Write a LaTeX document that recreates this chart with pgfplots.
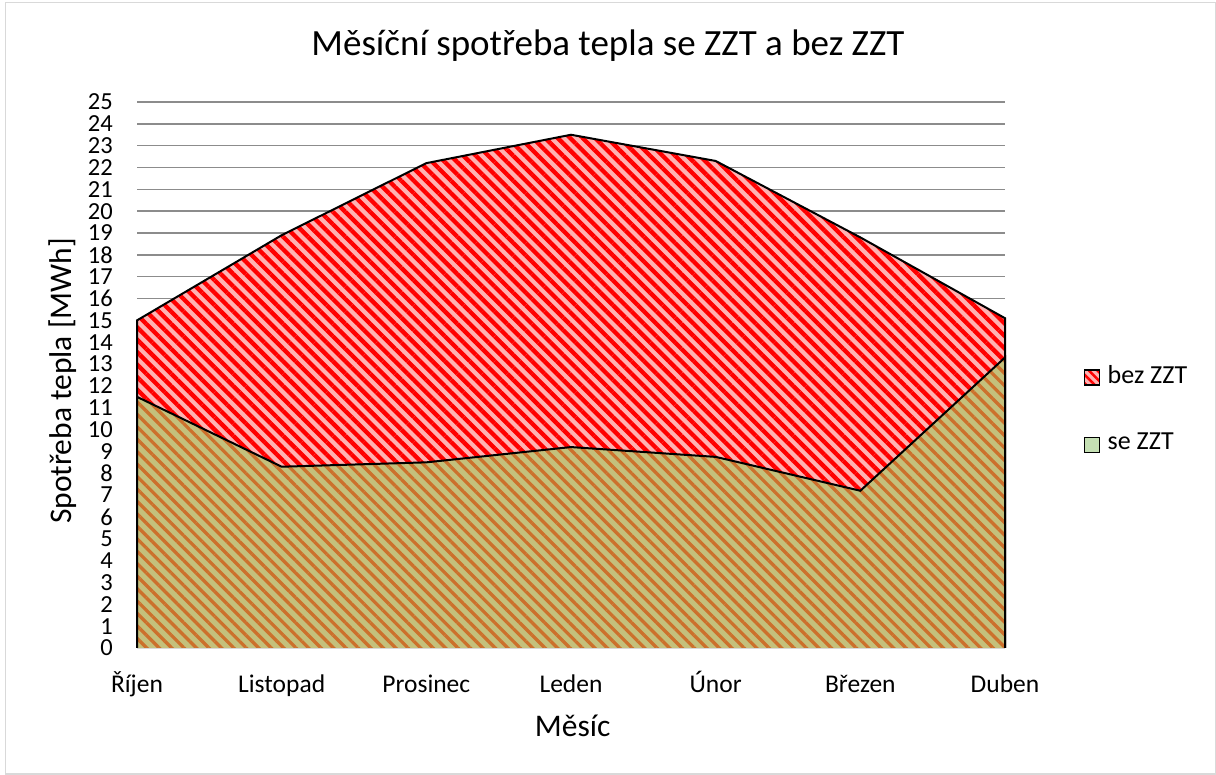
\documentclass[border=0pt]{standalone}
\usepackage{fontspec}
\setmainfont{Carlito}
\usepackage{pgfplots}
\pgfplotsset{compat=1.18}
\usetikzlibrary{patterns.meta}
\definecolor{pinkbg}{RGB}{255,178,178}
\definecolor{redstripe}{RGB}{255,0,0}
\definecolor{olivebg}{RGB}{196,192,124}
\definecolor{orangestripe}{RGB}{204,112,44}
\definecolor{legendgreen}{RGB}{197,224,180}
\definecolor{gridgray}{RGB}{140,140,140}
\definecolor{framegray}{RGB}{217,217,217}
\begin{document}
\begin{tikzpicture}
\useasboundingbox (0pt,0pt) rectangle (1216pt,775pt);
\draw[framegray, line width=1.5pt] (5.5pt,0.75pt) rectangle (1215.25pt,772.5pt);
\begin{axis}[
  at={(137pt,127pt)}, anchor=south west,
  scale only axis, width=868pt, height=546pt,
  xmin=0, xmax=6, ymin=0, ymax=25,
  clip=false, no markers,
  axis x line*=bottom, axis y line*=left,
  y axis line style={draw=none},
  x axis line style={framegray, line width=1.5pt},
  xtick={0,...,6},
  xticklabels={Říjen, Listopad, Prosinec, Leden, Únor, Březen, Duben},
  ytick={0,...,25},
  major tick length=0pt,
  ymajorgrids,
  grid style={gridgray, line width=1.5pt},
  /pgf/number format/assume math mode=true,
  yticklabel style={anchor=east, inner sep=0pt, xshift=-24pt, font=\fontsize{24.5}{25}\selectfont},
  xticklabel style={anchor=base, inner sep=0pt, yshift=-45pt, font=\fontsize{25.5}{30}\selectfont},
  title={Měsíční spotřeba tepla se ZZT a bez ZZT},
  title style={at={(axis description cs:0.5426,1.0733)}, anchor=base, inner sep=0pt, font=\fontsize{37}{44}\selectfont},
  xlabel={Měsíc},
  xlabel style={at={(axis description cs:0.502,-0.163)}, anchor=base, inner sep=0pt, font=\fontsize{31.5}{38}\selectfont},
  ylabel={Spotřeba tepla [MWh]},
  ylabel style={at={(axis description cs:-0.0749,0.489)}, anchor=base, inner sep=0pt, font=\fontsize{31.5}{38}\selectfont},
  legend style={at={(axis description cs:1.0899,0.5183)}, anchor=north west, draw=none, fill=none,
    inner sep=0pt, nodes={inner sep=0pt}, row sep=47pt,
    font=\fontsize{26}{31}\selectfont,
    /tikz/every odd column/.append style={column sep=7pt}},
  legend cell align=left,
]
% bez ZZT
\addplot[draw=none, fill=pinkbg, forget plot] coordinates {(0,15.0)(1,18.9)(2,22.2)(3,23.5)(4,22.3)(5,18.8)(6,15.1)} \closedcycle;
\addplot[draw=none, pattern={Lines[angle=-45,distance=8.8pt,line width=4.3pt]}, pattern color=redstripe, forget plot] coordinates {(0,15.0)(1,18.9)(2,22.2)(3,23.5)(4,22.3)(5,18.8)(6,15.1)} \closedcycle;
\addplot[black, line width=2pt, forget plot] coordinates {(0,0)(0,15.0)(1,18.9)(2,22.2)(3,23.5)(4,22.3)(5,18.8)(6,15.1)(6,0)};
% se ZZT
\addplot[draw=none, fill=olivebg, forget plot] coordinates {(0,11.5)(1,8.3)(2,8.5)(3,9.2)(4,8.75)(5,7.2)(6,13.3)} \closedcycle;
\addplot[draw=none, pattern={Lines[angle=-45,distance=8.8pt,line width=3.3pt]}, pattern color=orangestripe, forget plot] coordinates {(0,11.5)(1,8.3)(2,8.5)(3,9.2)(4,8.75)(5,7.2)(6,13.3)} \closedcycle;
\addplot[black, line width=2pt, forget plot] coordinates {(0,0)(0,11.5)(1,8.3)(2,8.5)(3,9.2)(4,8.75)(5,7.2)(6,13.3)(6,0)};
\addlegendimage{legend image code/.code={\draw[black, line width=1.3pt, fill=pinkbg, postaction={pattern={Lines[angle=-45,distance=6pt,line width=2.5pt]}, pattern color=redstripe}] (0pt,-10pt) rectangle (15pt,5pt);}}
\addlegendentry{bez ZZT}
\addlegendimage{legend image code/.code={\draw[black, line width=1.3pt, fill=legendgreen] (0pt,-10pt) rectangle (15pt,5pt);}}
\addlegendentry{se ZZT}
\end{axis}
\end{tikzpicture}
\end{document}
